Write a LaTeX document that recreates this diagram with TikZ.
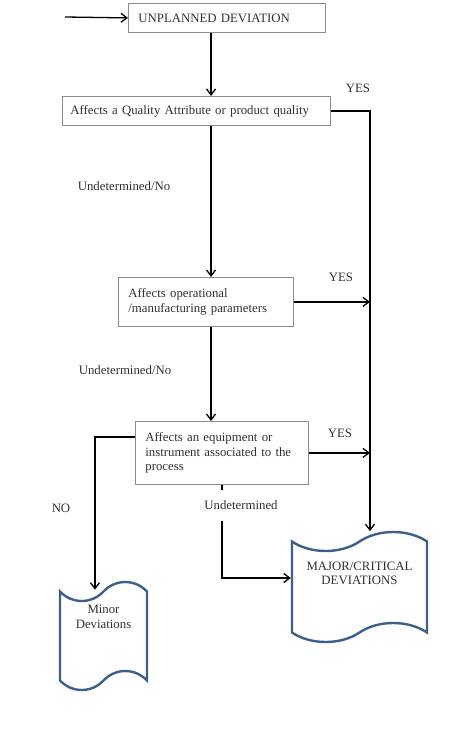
\documentclass[tikz,border=0pt]{standalone}
\usepackage{fontspec}
\setmainfont{Liberation Serif}
\usetikzlibrary{arrows.meta,shapes.symbols,positioning}
\definecolor{tapeblue}{HTML}{3E5F8A}
\definecolor{boxgray}{HTML}{8C8C8C}
\definecolor{inkgray}{HTML}{303030}
\tikzset{
  qbox/.style={draw=boxgray, line width=0.8bp, rectangle, align=left, inner ysep=2bp, text=inkgray, anchor=north west},
  outbox/.style={shape=tape, draw=tapeblue, line width=2.4bp, align=center, text=inkgray, tape bend top=in and out, tape bend height=19bp, inner sep=0pt},
  tag/.style={text=inkgray, inner sep=1bp},
}
\begin{document}
\begin{tikzpicture}[x=1bp,y=-1bp,->,>={Straight Barb[length=6bp,width=9bp]},line width=1.3bp,font=\fontsize{12.8bp}{14.5bp}\selectfont]
        \useasboundingbox (0,0) rectangle (474,755);
        % decision boxes
        \node[qbox, text width=177bp, inner xsep=10bp, minimum height=29bp] (start) at (128,3) {UNPLANNED DEVIATION};
        \node[qbox, text width=252bp, inner xsep=8bp, minimum height=29bp] (quality) at (62,96) {Affects a Quality Attribute or product quality};
        \node[qbox, text width=155bp, inner xsep=10bp, minimum height=49bp] (operation) at (118,277) {Affects operational\\/manufacturing parameters};
        \node[qbox, text width=153bp, inner xsep=10bp, minimum height=63bp] (equipment) at (135,421) {Affects an equipment or\\instrument associated to the\\process};
        % outcomes
        \node[outbox, minimum width=135bp, minimum height=110bp, text depth=27bp] (major) at (359.5,587) {MAJOR/CRITICAL\\DEVIATIONS};
        \node[outbox, minimum width=87bp, minimum height=108bp, text depth=38bp] (minor) at (103.5,636) {Minor\\Deviations};

        \coordinate (entry) at (65,17);
        \coordinate (rail) at (370,0);
        \coordinate (mid) at (211,0);
        \coordinate (left) at (95,0);
        \coordinate (undet) at (222,0);

        \draw (entry) -- (start.west);
        \draw (start.south -| mid) -- (quality.north -| mid);
        \draw (quality.south -| mid) -- (operation.north -| mid);
        \draw (operation.south -| mid) -- (equipment.north -| mid);
        \draw (quality.east) -| ([yshift=9bp]major.north -| rail);
        \draw (operation.east) -- (operation.east -| rail);
        \draw (equipment.east) -- (equipment.east -| rail);
        \draw ([yshift=-16bp]equipment.north west) -| (minor.north -| left);
        \draw (equipment.south -| undet) |- ([yshift=9bp]major.west);

        % labels
        \node[tag] (yes1) at (358,88) {YES};
        \node[tag] (yes2) at (341,277) {YES};
        \node[tag] (yes3) at (340,433) {YES};
        \node[tag] (no) at (61,508) {NO};
        \node[tag] (undno1) at (124,186) {Undetermined/No};
        \node[tag] (undno2) at (125,370) {Undetermined/No};
        \node[tag, fill=white, inner ysep=11bp] (undlabel) at (241,505.5) {Undetermined};
\end{tikzpicture}
\end{document}
